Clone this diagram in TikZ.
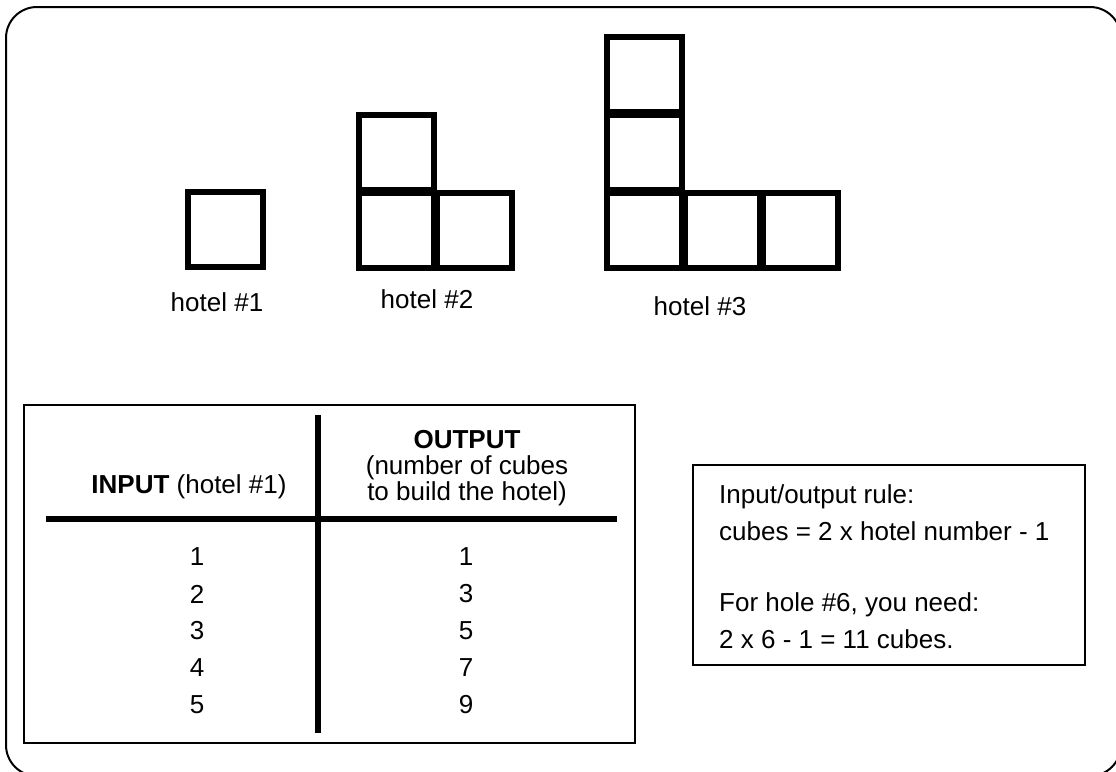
\documentclass[tikz,border=0pt]{standalone}
\usepackage{fontspec}
\setmainfont{Liberation Sans}
\usetikzlibrary{positioning}
\tikzset{
  cube/.style = {rectangle, draw, line width=6pt, minimum size=75pt, inner sep=0pt},
  panel/.style = {rectangle, draw, line width=1.6pt, inner sep=0pt},
  frame/.style = {draw, line width=2pt, rounded corners=31pt},
  bar/.style = {line width=6pt},
  txt/.style = {font=\fontsize{26}{26}\selectfont, inner sep=0pt}
}
\begin{document}
\begin{tikzpicture}[x=1pt, y=-1pt]
\useasboundingbox (0,0) rectangle (1116,771);
\draw[frame] (6,7) rectangle (1121,776);

% hotels
\node[cube] (h1a) at (225,229) {};

\node[cube] (h2a) at (396,230) {};
\node[cube, right=-3pt of h2a] (h2b) {};
\node[cube, above=-3pt of h2a] (h2c) {};

\node[cube] (h3a) at (644,230) {};
\node[cube, right=-3pt of h3a] (h3b) {};
\node[cube, right=-3pt of h3b] (h3c) {};
\node[cube, above=-3pt of h3a] (h3d) {};
\node[cube, above=-3pt of h3d] (h3e) {};

\node[txt] (lab1) at (217,302) {hotel \#1};
\node[txt] (lab2) at (427,299) {hotel \#2};
\node[txt] (lab3) at (700,306) {hotel \#3};

% table
\node[panel, minimum width=611pt, minimum height=338pt] (tbl) at (329.5,574) {};
\node[txt] (inhead) at (189,487) {\textbf{INPUT} (hotel \#1)};
\node[txt, align=center] (outhead) at (467,468)
  {\textbf{OUTPUT}\\(number of cubes\\to build the hotel)};
\coordinate (vtop) at (318,415);
\coordinate (vbot) at (318,733);
\coordinate (hl) at (46,519);
\coordinate (hr) at (617,519);
\draw[bar] (vtop) -- (vbot);
\draw[bar] (hl) -- (hr);
\foreach \n in {1,...,5}{
  \pgfmathtruncatemacro{\m}{2*\n-1}
  \node[txt] (in\n) at (197,520+37*\n) {\n};
  \node[txt] (out\n) at (466,520+37*\n) {\m};
}

% rule
\node[panel, minimum width=392pt, minimum height=200pt] (rule) at (889,565) {};
\node[txt, font=\fontsize{26}{37}\selectfont, align=left, anchor=west] (ruletxt) at (719,567)
  {Input/output rule:\\cubes = 2 x hotel number - 1\\[34pt]For hole \#6, you need:\\2 x 6 - 1 = 11 cubes.};
\end{tikzpicture}
\end{document}
